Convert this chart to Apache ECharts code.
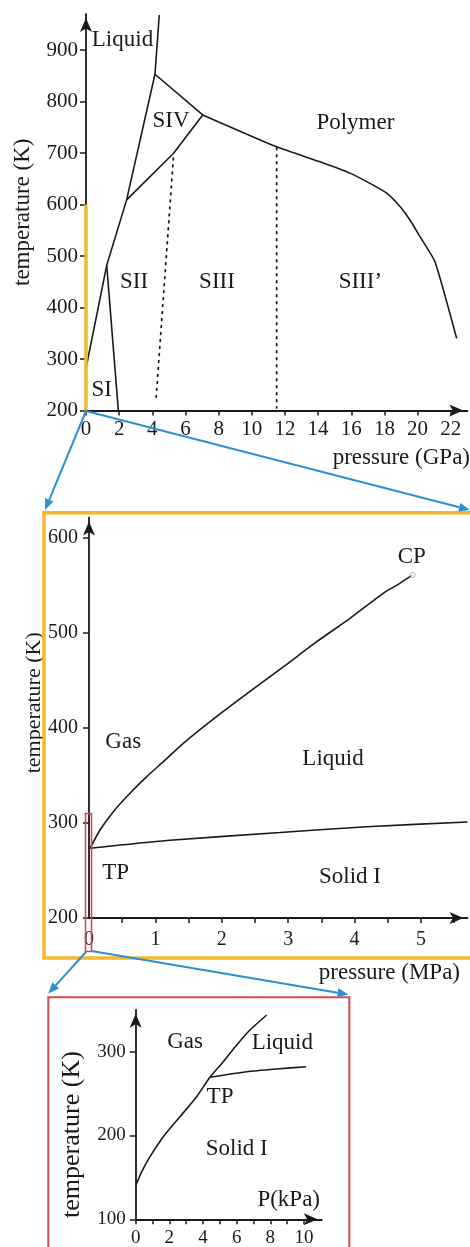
<!DOCTYPE html>
<html><head><meta charset="utf-8">
<script src="https://cdn.jsdelivr.net/npm/echarts@6/dist/echarts.min.js"></script>
<style>html,body{margin:0;padding:0;background:#fff}#c{width:470px;height:1247px}</style>
</head><body><div id="c"></div>
<script>
// ---------- DATA ----------
// Top panel: pressure (GPa) vs temperature (K)
const gpaTicks = [0,2,4,6,8,10,12,14,16,18,20,22];
const gpaTempTicks = [200,300,400,500,600,700,800,900];
const gpaMelt = [[0,282],[1.25,482],[2.45,609],[4.16,853],[4.42,968]];
const gpaSISII = [[1.25,482],[1.95,200]];
const gpaSIISIV = [[2.45,609],[5.27,699],[7.04,774]];
const gpaSIVLiquid = [[4.16,853],[7.04,774]];
const gpaPolymer = [[7.04,774],[11.5,712],[14.11,683],[15.92,661],[17.13,641],[18.14,622],[18.94,596],[19.54,570],[20.14,538],[21.05,489],[22.36,340]];
const gpaDotA = [[5.27,690],[4.22,220]];
const gpaDotB = [[11.5,710],[11.5,205]];
const gpaInset = [[0,200],[0,600]];
const gpaLabels = [['Liquid',2.2,919],['SIV',5.13,762],['Polymer',16.25,759],['SII',2.9,450],['SIII',7.9,450],['SIII\u2019',16.55,450],['SI',0.95,240]];

// Middle panel: pressure (MPa)
const mpaTickVals = [0.5,1,1.5,2,2.5,3,3.5,4,4.5,5,5.5];
const mpaLabelVals = [0,1,2,3,4,5];
const mpaTempTicks = [200,300,400,500,600];
const mpaVap = [[0.015,273.3],[0.166,292.5],[0.366,311.8],[0.617,331.1],[0.869,348.6],[1.119,364.4],[1.42,383.7],[1.92,411.7],[2.42,438],[2.93,464.2],[3.43,490.5],[3.93,515.1],[4.43,541.4],[4.68,551.9],[4.875,560.7]];
const mpaMelt = [[0.015,273.3],[1.17,281.5],[2.88,289.9],[4.18,296],[5.7,301]];
const mpaCP = [[4.875,560.7]];
const mpaLabels = [['Gas',0.515,385],['Liquid',3.675,367],['TP',0.4,247],['Solid I',3.93,243],['CP',4.86,580]];

// Bottom panel: P (kPa)
const kpaTickVals = [0,1,2,3,4,5,6,7,8,9,10];
const kpaLabelVals = [0,2,4,6,8,10];
const kpaTempTicks = [100,200,300];
const kpaSub = [[0.018,140.9],[0.36,156.8],[0.85,174.7],[1.64,198.6],[2.63,222.4],[3.62,246.3],[4.41,269.5],[5.21,288.1],[6.0,308],[6.79,325.9],[7.78,343.8]];
const kpaMelt = [[4.41,269.5],[6.6,276.1],[8.38,279.4],[10.12,282.1]];
const kpaLabels = [['Gas',2.93,312],['Liquid',8.71,310],['TP',5.01,246],['Solid I',6.0,183.5]];

// ---------- STYLE ----------
const FONT = 'Liberation Serif';
const INK = '#1a1a1a';
const YEL = '#f3b82c';
const RED = '#d9474b';
const BLUE = '#2e8fd2';

function xAx(grid, min, max, tickVals, labelVals, name, gap, lh, fs, margin, nfs) {
  return {
    type:'value', gridIndex:grid, min:min, max:max,
    axisLine:{show:true, onZero:false, symbol:['none','arrow'], symbolSize:[9,14], symbolOffset:[0,-4], lineStyle:{color:INK,width:1.8}},
    axisTick:{show:true, customValues:tickVals, length:5, lineStyle:{color:INK,width:1.5}},
    axisLabel:{customValues:labelVals, fontFamily:FONT, fontSize:fs, color:INK, margin:margin, hideOverlap:false},
    splitLine:{show:false},
    name:name, nameLocation:'end', nameGap:gap, nameMoveOverlap:false,
    nameTextStyle:{fontFamily:FONT, fontSize:nfs, color:INK, align:'right', verticalAlign:'middle', lineHeight:lh}
  };
}
function yAx(grid, min, max, ticks, name, gap, pad, fs, margin, nfs) {
  return {
    type:'value', gridIndex:grid, min:min, max:max,
    axisLine:{show:true, onZero:false, symbol:['none','arrow'], symbolSize:[9,14], symbolOffset:[0,-4], lineStyle:{color:INK,width:1.8}},
    axisTick:{show:true, customValues:ticks, length:6, lineStyle:{color:INK,width:1.5}},
    axisLabel:{customValues:ticks, fontFamily:FONT, fontSize:fs, color:INK, margin:margin},
    splitLine:{show:false},
    name:name, nameLocation:'middle', nameGap:gap, nameMoveOverlap:false,
    nameTextStyle:{fontFamily:FONT, fontSize:nfs, color:INK, padding:pad}
  };
}
function curve(g, data, opts) {
  return Object.assign({
    type:'line', xAxisIndex:g, yAxisIndex:g, data:data, showSymbol:false, clip:false,
    lineStyle:{color:INK, width:1.6}, silent:true, z:3
  }, opts||{});
}
function labels(g, arr, fs) {
  return {
    type:'scatter', xAxisIndex:g, yAxisIndex:g, symbolSize:1, silent:true,
    itemStyle:{color:'rgba(0,0,0,0)'}, z:5,
    data: arr.map(a => ({name:a[0], value:[a[1],a[2]]})),
    label:{show:true, position:'inside', formatter:p=>p.name, fontFamily:FONT, fontSize:fs, color:INK, textBorderWidth:0, opacity:1}
  };
}
function arrow(x1,y1,x2,y2) {
  const a = Math.atan2(y2-y1, x2-x1), L = 11, W = 4.5;
  const bx = x2 - L*Math.cos(a), by = y2 - L*Math.sin(a);
  const nx = -Math.sin(a), ny = Math.cos(a);
  return [
    {type:'line', shape:{x1:x1,y1:y1,x2:bx,y2:by}, style:{stroke:BLUE, lineWidth:2}, z:50},
    {type:'polygon', shape:{points:[[x2,y2],[bx+nx*W,by+ny*W],[bx-nx*W,by-ny*W]]}, style:{fill:BLUE}, z:50}
  ];
}

const option = {
  animation:false,
  backgroundColor:'#fff',
  grid:[
    {left:86, top:14, width:381.3, height:396.5, outerBoundsMode:'none', containLabel:false},
    {left:89, top:517.6, width:378.5, height:400.4, outerBoundsMode:'none', containLabel:false},
    {left:135.7, top:1009.8, width:186, height:209.5, outerBoundsMode:'none', containLabel:false}
  ],
  xAxis:[
    xAx(0, 0, 23, gpaTicks, gpaTicks, '\npressure (GPa)', 2.7, 95, 21, 8, 23),
    xAx(1, 0, 5.7, mpaTickVals, mpaLabelVals, '\npressure (MPa)', -7.5, 110, 20, 12, 23),
    xAx(2, 0, 11.05, kpaTickVals, kpaLabelVals, 'P(kPa)\n', -1.7, 38, 19, 9, 23)
  ],
  yAxis:[
    yAx(0, 200, 970, gpaTempTicks, 'temperature (K)', 52, [0,0,0,0], 21, 8, 23),
    yAx(1, 200, 621, mpaTempTicks, 'temperature (K)', 44, [0,0,0,30], 20, 11, 22),
    yAx(2, 100, 350, kpaTempTicks, 'temperature (K)', 51, [0,40,0,0], 19, 10, 26)
  ],
  series:[
    curve(0, gpaMelt), curve(0, gpaSISII), curve(0, gpaSIISIV), curve(0, gpaSIVLiquid), curve(0, gpaPolymer, {smooth:0.15}),
    curve(0, gpaDotA, {lineStyle:{color:INK, width:1.8, type:[1.6,5.4], cap:'round'}}),
    curve(0, gpaDotB, {lineStyle:{color:INK, width:1.8, type:[1.6,5.4], cap:'round'}}),
    curve(0, gpaInset, {lineStyle:{color:YEL, width:3.5}, z:6}),
    labels(0, gpaLabels, 23),
    curve(1, mpaVap, {smooth:0.2}), curve(1, mpaMelt, {smooth:0.2}),
    {type:'scatter', xAxisIndex:1, yAxisIndex:1, data:mpaCP, symbol:'circle', symbolSize:5, silent:true,
     itemStyle:{color:'#fff', borderColor:'#888', borderWidth:0.8}, z:6},
    labels(1, mpaLabels, 23),
    curve(2, kpaSub, {smooth:0.2}), curve(2, kpaMelt, {smooth:0.2}),
    labels(2, kpaLabels, 23)
  ],
  graphic:[
    {type:'rect', shape:{x:44, y:512.7, width:440, height:445.3}, style:{fill:'none', stroke:YEL, lineWidth:3.5}, z:40},
    {type:'rect', shape:{x:85.5, y:813.5, width:6, height:138}, style:{fill:'none', stroke:RED, lineWidth:1.6}, z:40},
    {type:'rect', shape:{x:48.3, y:997.3, width:301, height:270}, style:{fill:'none', stroke:RED, lineWidth:2}, z:40},
    ...arrow(86,411,45,510), ...arrow(86,411,470,510),
    ...arrow(86,952,48.3,993.5), ...arrow(91.5,951,348.5,994.5)
  ]
};
echarts.init(document.getElementById('c'), null, {renderer:'canvas'}).setOption(option);
</script></body></html>
